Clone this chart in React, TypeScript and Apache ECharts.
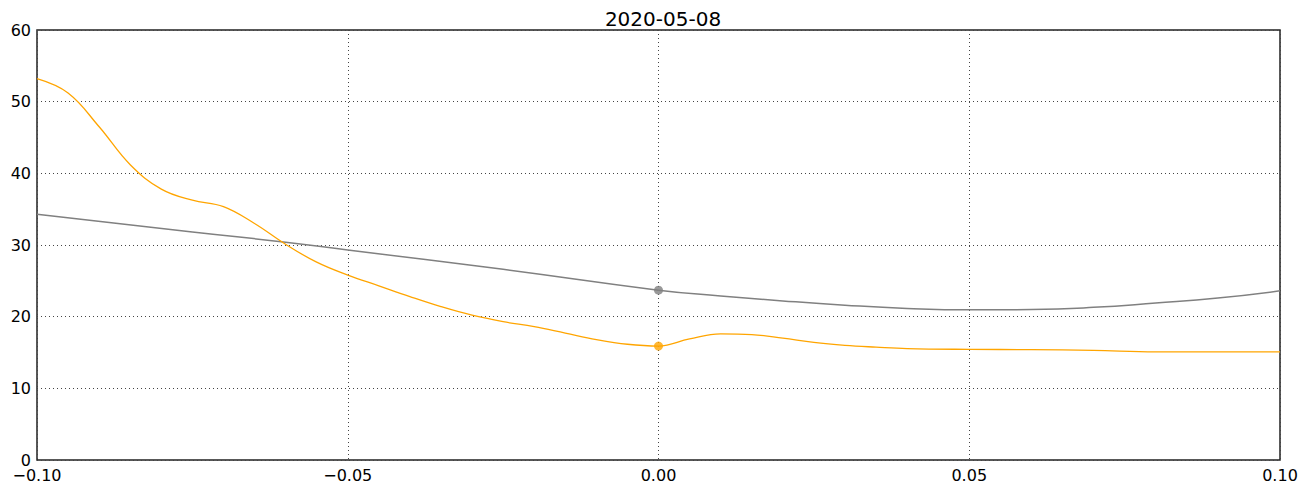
import React, { useEffect, useRef } from "react";
import * as echarts from "echarts";

const TITLE = "2020-05-08";

const orangeX = [-0.1, -0.095, -0.09, -0.085, -0.08, -0.075, -0.07, -0.065, -0.06, -0.055, -0.05, -0.045, -0.04, -0.035, -0.03, -0.025, -0.02, -0.015, -0.01, -0.005, 0, 0.005, 0.01, 0.015, 0.02, 0.025, 0.03, 0.035, 0.04, 0.05, 0.06, 0.07, 0.08, 0.09, 0.1];
const orangeY = [53.2, 51.2, 46.5, 41.2, 37.8, 36.25, 35.35, 33.0, 30.1, 27.6, 25.8, 24.3, 22.8, 21.4, 20.2, 19.3, 18.6, 17.7, 16.8, 16.15, 15.9, 16.9, 17.6, 17.5, 17.0, 16.4, 16.0, 15.75, 15.55, 15.44, 15.4, 15.3, 15.1, 15.1, 15.1];

const grayX = [-0.1, -0.075, -0.06, -0.05, -0.025, 0, 0.01, 0.02, 0.03, 0.04, 0.05, 0.06, 0.07, 0.08, 0.09, 0.1];
const grayY = [34.3, 31.8, 30.4, 29.3, 26.6, 23.7, 22.9, 22.2, 21.6, 21.15, 20.95, 21.0, 21.3, 21.9, 22.6, 23.6];

const markerX = [0];
const orangeMarkerY = [15.9];
const grayMarkerY = [23.7];

const zip = (xs: number[], ys: number[]) => xs.map((x, i) => [x, ys[i]]);

const fmtX = (v: number) => {
  const s = Math.abs(v).toFixed(2);
  return v < -1e-9 ? "\u2212" + s : s;
};

export default function App() {
  const ref = useRef<HTMLDivElement>(null);
  useEffect(() => {
    const chart = echarts.init(ref.current!, null, { renderer: "svg" });
    const font = "DejaVu Sans";
    const grid = { type: [1, 3], color: "#444", width: 1 };
    chart.setOption({
      animation: false,
      backgroundColor: "#fff",
      title: {
        text: TITLE,
        left: 658,
        top: 4,
        textAlign: "center",
        textStyle: { fontFamily: font, fontSize: 20, fontWeight: "normal", color: "#000" },
      },
      grid: { left: 37, right: 29, top: 30, bottom: 26, show: true, borderColor: "#222", borderWidth: 1.5, backgroundColor: "transparent" },
      xAxis: {
        type: "value", min: -0.1, max: 0.1, interval: 0.05,
        axisLine: { show: false },
        axisTick: { show: false },
        axisLabel: { formatter: fmtX, fontFamily: font, fontSize: 16, lineHeight: 12, color: "#000", margin: 9, showMinLabel: true, showMaxLabel: true },
        splitLine: { show: true, lineStyle: grid },
      },
      yAxis: {
        type: "value", min: 0, max: 60, interval: 10,
        axisLine: { show: false },
        axisTick: { show: false },
        axisLabel: { fontFamily: font, fontSize: 16, lineHeight: 12, color: "#000", margin: 6, padding: [0, 0, 4, 0] },
        splitLine: { show: true, lineStyle: grid },
      },
      series: [
        {
          type: "line", data: zip(grayX, grayY), smooth: 0.5,
          showSymbol: false, lineStyle: { color: "#808080", width: 1.5 }, z: 3,
        },
        {
          type: "line", data: zip(orangeX, orangeY), smooth: 0.4,
          showSymbol: false, lineStyle: { color: "#FFA500", width: 1.3 }, z: 4,
        },
        {
          type: "scatter", data: zip(markerX, grayMarkerY), symbolSize: 9,
          itemStyle: { color: "#808080" }, z: 5,
        },
        {
          type: "scatter", data: zip(markerX, orangeMarkerY), symbolSize: 9,
          itemStyle: { color: "#FFA500" }, z: 5,
        },
      ],
    });
    return () => chart.dispose();
  }, []);
  return <div ref={ref} style={{ position: "fixed", left: 0, top: 0, width: 1309, height: 486 }} />;
}
